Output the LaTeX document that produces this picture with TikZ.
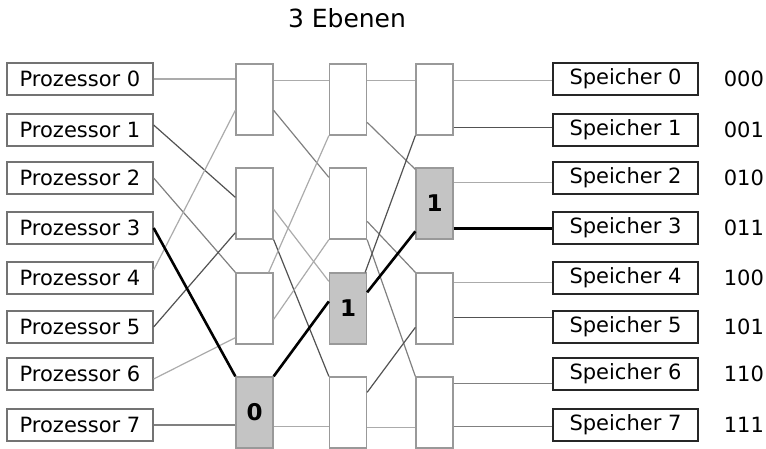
\documentclass[tikz,border=0pt]{standalone}
\usepackage{fontspec}
\setmainfont{DejaVu Sans}
\usetikzlibrary{positioning}

\begin{document}
\begin{tikzpicture}[x=1pt,y=-1pt]
                \tikzset{unit/.style={draw=black!55, line width=1.3pt, fill=white,
                minimum width=146pt, minimum height=32pt, inner sep=0pt,
                font=\fontsize{21}{25}\selectfont},
                 mem/.style={unit, draw=black!85, minimum width=145pt},
                 addr/.style={inner sep=0pt, font=\fontsize{21}{25}\selectfont},
                 switch/.style={draw=black!40, line width=1.3pt, fill=white,
                 minimum width=37pt, minimum height=71pt, inner sep=0pt,
                 font=\bfseries\fontsize{23}{27}\selectfont},
                 used/.style={switch, fill=black!23},
                 lite/.style={black!33, line width=1.2pt},
                 midw/.style={black!50, line width=1.2pt},
                 dark/.style={black!68, line width=1.2pt},
                 route/.style={black, line width=2.6pt}}

                \useasboundingbox (0,0) rectangle (766,448);

                \node[font=\fontsize{25}{30}\selectfont, anchor=base] (title) at (347,27) {3 Ebenen};

                \foreach \i/\y/\b in {0/79/000, 1/130/001, 2/178/010, 3/228/011,
                                      4/278/100, 5/327/101, 6/374/110, 7/425/111} {
                    \node[unit] (p\i) at (80,\y) {Prozessor \i};
                    \node[mem] (m\i) at (625.5,\y) {Speicher \i};
                    \node[addr, right=25pt of m\i] (a\i) {\b};
                }

                \node[switch] (s11) at (254.5,99.5) {};
                \node[switch] (s12) at (254.5,203.5) {};
                \node[switch] (s13) at (254.5,308.5) {};
                \node[used]   (s14) at (254.5,412.5) {0};

                \node[switch] (s21) at (348,99.5) {};
                \node[switch] (s22) at (348,203.5) {};
                \node[used]   (s23) at (348,308.5) {1};
                \node[switch] (s24) at (348,412.5) {};

                \node[switch] (s31) at (434.5,99.5) {};
                \node[used]   (s32) at (434.5,203.5) {1};
                \node[switch] (s33) at (434.5,308.5) {};
                \node[switch] (s34) at (434.5,412.5) {};

                \draw[lite] (p0.east) -- (p0.east -| s11.west);
                \draw[dark] ([yshift=5pt]p1.east) -- ([yshift=-30pt]s12.north west);
                \draw[midw] (p2.east) -- (s13.north west);
                \draw[lite] ([yshift=8pt]p4.east) -- ([yshift=-47pt]s11.north west);
                \draw[dark] (p5.east) -- ([yshift=7pt]s12.south west);
                \draw[lite] ([yshift=-5pt]p6.east) -- ([yshift=7pt]s13.south west);
                \draw[midw] (p7.east) -- (p7.east -| s14.west);
                \draw[route] (p3.east) -- (s14.north west);

                \draw[lite] ([yshift=-17pt]s11.north east) -- ([yshift=-17pt]s21.north west);
                \draw[midw] ([yshift=-47pt]s11.north east) -- ([yshift=-10pt]s22.north west);
                \draw[lite] ([yshift=-42pt]s12.north east) -- ([yshift=-9pt]s23.north west);
                \draw[dark] (s12.south east) -- (s24.north west);
                \draw[lite] ([xshift=-5pt]s13.north east) -- (s21.south west);
                \draw[lite] ([yshift=-47pt]s13.north east) -- (s22.south west);
                \draw[lite] ([yshift=-50pt]s14.north east) -- ([yshift=-50pt]s24.north west);
                \draw[route] (s14.north east) -- ([yshift=-29pt]s23.north west);

                \draw[lite] ([yshift=-17pt]s21.north east) -- ([yshift=-17pt]s31.north west);
                \draw[midw] ([yshift=-59pt]s21.north east) -- ([yshift=-2pt]s32.north west);
                \draw[midw] ([yshift=-54pt]s22.north east) -- (s33.north west);
                \draw[midw] (s22.south east) -- (s34.north west);
                \draw[dark] ([xshift=-2pt]s23.north east) -- (s31.south west);
                \draw[dark] ([yshift=-16pt]s24.north east) -- ([yshift=-55pt]s33.north west);
                \draw[lite] ([yshift=-51pt]s24.north east) -- ([yshift=-51pt]s34.north west);
                \draw[route] ([yshift=-20pt]s23.north east) -- ([yshift=-64pt]s32.north west);

                \foreach \s/\d/\m/\st in {1/17/0/lite, 1/64/1/dark, 2/15/2/lite, 2/61/3/route,
                                          3/10/4/lite, 3/45/5/dark, 4/7/6/midw, 4/50/7/midw}
                    \draw[\st] ([yshift=-\d pt]s3\s.north east) coordinate (o\m) -- (o\m -| m\m.west);
\end{tikzpicture}
\end{document}
